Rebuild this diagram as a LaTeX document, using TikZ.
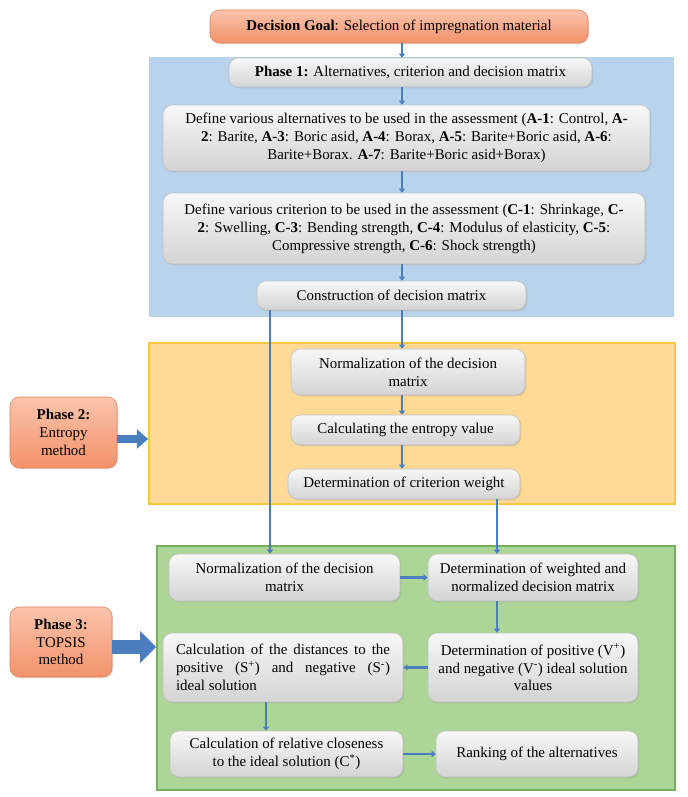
\documentclass[tikz,border=0pt]{standalone}
\usepackage{fontspec}
\setmainfont{Liberation Serif}
\usetikzlibrary{arrows.meta, positioning, shadows}
\newdimen\pix \pix=0.75pt

\definecolor{linkblue}{RGB}{74,126,190}
\definecolor{zoneblue}{RGB}{186,211,236}
\definecolor{zoneorange}{RGB}{255,218,150}
\definecolor{edgeorange}{RGB}{247,200,70}
\definecolor{zonegreen}{RGB}{174,213,152}
\definecolor{edgegreen}{RGB}{118,174,92}
\definecolor{salmontop}{RGB}{251,196,172}
\definecolor{salmonbot}{RGB}{242,146,106}
\definecolor{salmonedge}{RGB}{228,128,88}

\begin{document}
\begin{tikzpicture}[x=0.75pt, y=-0.75pt,
    zone/.style={inner sep=0pt},
    stepbox/.style={draw=gray!50, rounded corners=7pt, top color=gray!6, bottom color=gray!34,
        align=center, inner sep=2pt, font=\fontsize{11.2}{13.4}\selectfont,
        drop shadow={opacity=0.22, shadow xshift=1pt, shadow yshift=-1pt}},
    phasebox/.style={stepbox, draw=salmonedge, top color=salmontop, bottom color=salmonbot},
    link/.style={linkblue, line width=1.7pt, -{Triangle[length=3pt, width=4.5pt]}}]
    \useasboundingbox (0,0) rectangle (687,797);

    % Phase zones
    \node[zone, fill=zoneblue, minimum width=525\pix, minimum height=260\pix] (zone1) at (411.5,187) {};
    \node[zone, fill=zoneorange, draw=edgeorange, line width=1.2pt, minimum width=526\pix, minimum height=161\pix] (zone2) at (412,423.5) {};
    \node[zone, fill=zonegreen, draw=edgegreen, line width=1.2pt, minimum width=518\pix, minimum height=244\pix] (zone3) at (416,668) {};

    % Goal and phase 1
    \node[phasebox, minimum width=378\pix, minimum height=33\pix] (goal) at (399,26.5)
        {\textbf{Decision Goal}: Selection of impregnation material};
    \node[stepbox, minimum width=363\pix, minimum height=29\pix] (phase1) at (410.5,72.5)
        {\textbf{Phase 1:} Alternatives, criterion and decision matrix};
    \node[stepbox, minimum width=487\pix, minimum height=66\pix] (alt) at (406.5,138)
        {Define various alternatives to be used in the assessment (\textbf{A-1}: Control, \textbf{A-}\\
         \textbf{2}: Barite, \textbf{A-3}: Boric asid, \textbf{A-4}: Borax, \textbf{A-5}: Barite+Boric asid, \textbf{A-6}:\\
         Barite+Borax. \textbf{A-7}: Barite+Boric asid+Borax)};
    \node[stepbox, minimum width=482\pix, minimum height=71\pix] (crit) at (404,228.5)
        {Define various criterion to be used in the assessment (\textbf{C-1}: Shrinkage, \textbf{C-}\\
         \textbf{2}: Swelling, \textbf{C-3}: Bending strength, \textbf{C-4}: Modulus of elasticity, \textbf{C-5}:\\
         Compressive strength, \textbf{C-6}: Shock strength)};
    \node[stepbox, minimum width=269\pix, minimum height=29\pix] (constr) at (391.5,295.5)
        {Construction of decision matrix};

    % Phase 2: entropy
    \node[phasebox, minimum width=107\pix, minimum height=71\pix] (phase2) at (63.5,432.5)
        {\textbf{Phase 2:}\\ Entropy\\ method};
    \node[stepbox, minimum width=234\pix, minimum height=46\pix] (normA) at (408,372)
        {Normalization of the decision\\ matrix};
    \node[stepbox, minimum width=229\pix, minimum height=30\pix] (entropy) at (405.5,430)
        {Calculating the entropy value};
    \node[stepbox, minimum width=232\pix, minimum height=30\pix] (weight) at (404,484)
        {Determination of criterion weight};

    % Phase 3: TOPSIS
    \node[phasebox, minimum width=102\pix, minimum height=70\pix] (phase3) at (61,642)
        {\textbf{Phase 3:}\\ TOPSIS\\ method};
    \node[stepbox, minimum width=231\pix, minimum height=47\pix] (normB) at (284.5,577.5)
        {Normalization of the decision\\ matrix};
    \node[stepbox, minimum width=210\pix, minimum height=47\pix] (weighted) at (533,577.5)
        {Determination of weighted and\\ normalized decision matrix};
    \node[stepbox, minimum width=240\pix, minimum height=69\pix, text width=214\pix, align=justify] (dist) at (283,667.5)
        {Calculation of the distances to the\linebreak positive (S\textsuperscript{+}) and negative (S\textsuperscript{-})\linebreak ideal solution};
    \node[stepbox, minimum width=210\pix, minimum height=69\pix] (positive) at (533,667.5)
        {Determination of positive (V\textsuperscript{+})\\ and negative (V\textsuperscript{-}) ideal solution\\ values};
    \node[stepbox, minimum width=233\pix, minimum height=46\pix] (closeness) at (286.5,754)
        {Calculation of relative closeness\\ to the ideal solution (C\textsuperscript{*})};
    \node[stepbox, minimum width=202\pix, minimum height=46\pix] (ranking) at (537,754)
        {Ranking of the alternatives};

    % Columns for the connectors
    \coordinate (mid) at (402,0);
    \coordinate (left) at (270,0);
    \coordinate (right) at (497,0);
    \coordinate (low) at (266,0);
    \coordinate (arr2) at (0,439);
    \coordinate (arr3) at (0,647);

    % Connectors
    \draw[link] (goal.south -| mid) -- (phase1.north -| mid);
    \draw[link] (phase1.south -| mid) -- (alt.north -| mid);
    \draw[link] (alt.south -| mid) -- (crit.north -| mid);
    \draw[link] (crit.south -| mid) -- (constr.north -| mid);
    \draw[link] (constr.south -| mid) -- (normA.north -| mid);
    \draw[link] (constr.south -| left) -- (normB.north -| left);
    \draw[link] (normA.south -| mid) -- (entropy.north -| mid);
    \draw[link] (entropy.south -| mid) -- (weight.north -| mid);
    \draw[link] (weight.south -| right) -- (weighted.north -| right);
    \draw[link] (normB.east) -- (weighted.west);
    \draw[link] (weighted.south -| right) -- (positive.north -| right);
    \draw[link] (positive.west) -- (dist.east);
    \draw[link] (dist.south -| low) -- (closeness.north -| low);
    \draw[link] (closeness.east) -- (ranking.west);

    % Phase arrows
    \draw[linkblue, line width=6pt, -{Triangle[length=8.5pt, width=14pt]}] (phase2.east |- arr2) -- (zone2.west |- arr2);
    \draw[linkblue, line width=11pt, -{Triangle[length=12pt, width=23pt]}] (phase3.east |- arr3) -- (zone3.west |- arr3);
\end{tikzpicture}
\end{document}
